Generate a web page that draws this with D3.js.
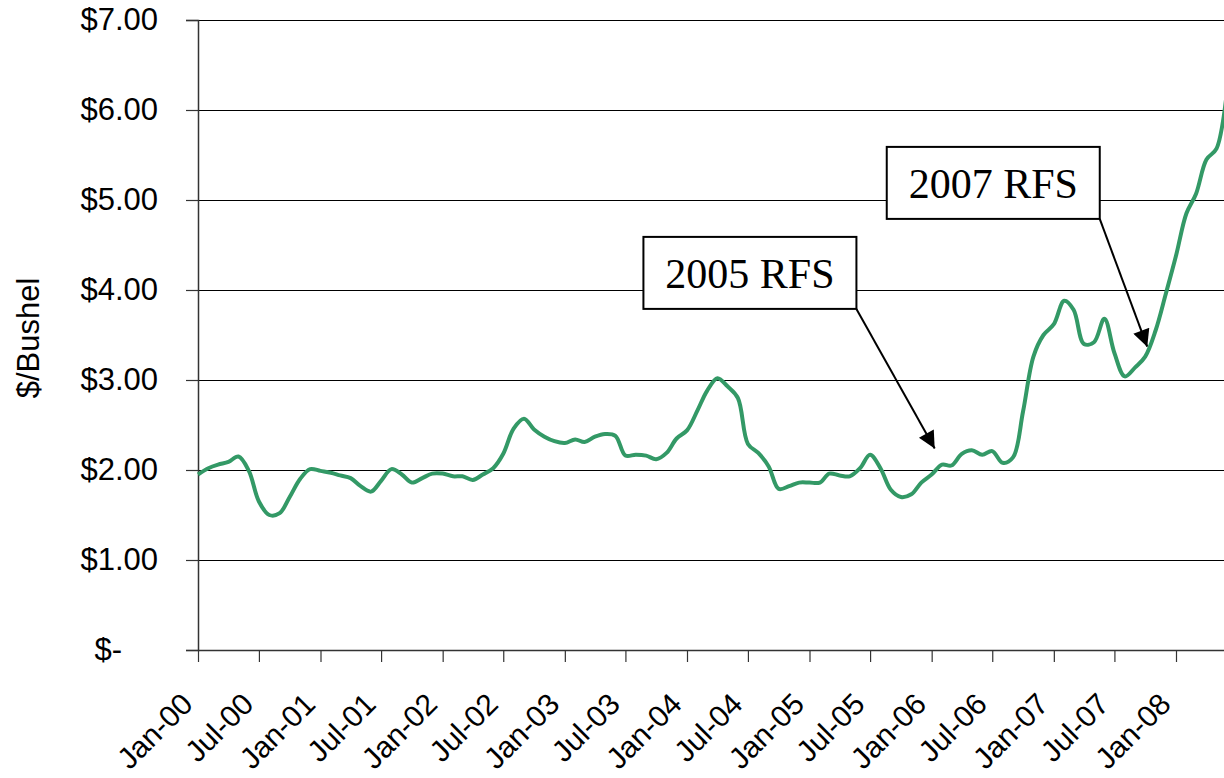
<!DOCTYPE html>
<html>
<head>
<meta charset="utf-8">
<script src="https://cdn.jsdelivr.net/npm/d3@7"></script>
<style>
  html, body { margin: 0; padding: 0; background: #fff; }
  svg { display: block; }
</style>
</head>
<body>
<svg id="chart" width="1224" height="778"></svg>
<script>
// ---- Data: monthly corn price ($/bushel), first month Jan-2000 ----
const startMonth = "2000-01";
const price2000 = [1.95, 2.02, 2.06, 2.09, 2.15, 1.99, 1.65, 1.50, 1.52, 1.70, 1.90, 2.01];
const price2001 = [1.99, 1.97, 1.94, 1.91, 1.82, 1.76, 1.88, 2.01, 1.95, 1.86, 1.91, 1.96];
const price2002 = [1.96, 1.93, 1.93, 1.89, 1.95, 2.02, 2.18, 2.46, 2.57, 2.45, 2.37, 2.32];
const price2003 = [2.30, 2.34, 2.31, 2.37, 2.40, 2.38, 2.16, 2.17, 2.16, 2.12, 2.19, 2.35];
const price2004 = [2.44, 2.66, 2.88, 3.02, 2.93, 2.80, 2.29, 2.19, 2.04, 1.79, 1.82, 1.86];
const price2005 = [1.86, 1.86, 1.96, 1.94, 1.93, 2.02, 2.17, 2.02, 1.78, 1.70, 1.73, 1.86];
const price2006 = [1.95, 2.06, 2.05, 2.18, 2.22, 2.17, 2.21, 2.08, 2.14, 2.65, 3.26, 3.50];
const price2007 = [3.62, 3.88, 3.78, 3.40, 3.42, 3.68, 3.30, 3.04, 3.14, 3.26, 3.55, 3.95];
const price2008 = [4.38, 4.85, 5.07, 5.45, 5.57, 6.20];

const tickLabels = ["Jan-00","Jul-00","Jan-01","Jul-01","Jan-02","Jul-02","Jan-03","Jul-03",
                    "Jan-04","Jul-04","Jan-05","Jul-05","Jan-06","Jul-06","Jan-07","Jul-07","Jan-08"];
const yTicks = [0, 1, 2, 3, 4, 5, 6, 7];
const yTitle = "$/Bushel";

// Annotations (label, box centre in data space, arrow tip in data space)
const annoLabels = ["2005 RFS", "2007 RFS"];
const annoBoxDate = ["2004-07-07", "2006-07-04"];
const annoBoxValue = [4.19, 5.19];
const annoTipDate = ["2006-01-10", "2007-10-07"];
const annoTipValue = [2.24, 3.37];

// ---- Build ----
(function () {
const parseMonth = d3.timeParse("%Y-%m");
const parseDay = d3.timeParse("%Y-%m-%d");
const prices = [].concat(price2000, price2001, price2002, price2003, price2004,
                         price2005, price2006, price2007, price2008);
const start = parseMonth(startMonth);
const data = prices.map((v, i) => ({ date: d3.timeMonth.offset(start, i), value: v }));
const tickDates = tickLabels.map(s => d3.timeParse("%b-%y")(s));

const svg = d3.select("#chart");
const W = 1224, H = 778;
const mLeft = 198, mRight = 1224, mTop = 20, mBottom = 650;

svg.append("rect").attr("width", W).attr("height", H).attr("fill", "#fff");

const x = d3.scaleTime()
  .domain([tickDates[0], tickDates[tickDates.length - 1]])
  .range([mLeft, 1176]);
const y = d3.scaleLinear().domain([0, 7]).range([mBottom, mTop]);

// gridlines
svg.append("g")
  .selectAll("line")
  .data(yTicks.filter(d => d > 0))
  .join("line")
  .attr("x1", mLeft).attr("x2", mRight)
  .attr("y1", d => y(d)).attr("y2", d => y(d))
  .attr("stroke", "#000").attr("stroke-width", 1)
  .attr("shape-rendering", "crispEdges");

// y axis
const yAxis = svg.append("g")
  .attr("transform", `translate(${mLeft},0)`)
  .call(d3.axisLeft(y).tickValues(yTicks).tickSize(12).tickPadding(28)
    .tickFormat(d => d === 0 ? "$-" : "$" + d3.format(".2f")(d)));
yAxis.select(".domain").attr("stroke", "#333").attr("stroke-width", 1.5);
yAxis.selectAll(".tick line").attr("stroke", "#333").attr("stroke-width", 1.2);
yAxis.selectAll(".tick text")
  .attr("font-family", "'Liberation Sans', Arial, sans-serif")
  .attr("font-size", 31).attr("fill", "#000")
  .attr("x", d => d === 0 ? -76 : -40);

// x axis
const xAxis = svg.append("g")
  .attr("transform", `translate(0,${mBottom})`)
  .call(d3.axisBottom(x).tickValues(tickDates).tickSize(12).tickSizeOuter(0)
    .tickFormat((d, i) => tickLabels[i]));
xAxis.select(".domain").attr("d", `M${mLeft},0.5H${mRight}`).attr("stroke", "#333").attr("stroke-width", 1.5);
xAxis.selectAll(".tick line").attr("stroke", "#333").attr("stroke-width", 1.2);
xAxis.selectAll(".tick text")
  .attr("font-family", "'Liberation Sans', Arial, sans-serif")
  .attr("font-size", 30).attr("fill", "#000")
  .attr("x", 0).attr("y", 0).attr("dy", 0)
  .attr("text-anchor", "end")
  .attr("transform", "translate(-4,56) rotate(-45)");

// y title
svg.append("text")
  .attr("transform", `translate(39,${(mTop + mBottom) / 2 + 3}) rotate(-90)`)
  .attr("text-anchor", "middle")
  .attr("font-family", "'Liberation Sans', Arial, sans-serif")
  .attr("font-size", 31)
  .text(yTitle);

// line
const line = d3.line()
  .x(d => x(d.date)).y(d => y(d.value))
  .curve(d3.curveCatmullRom.alpha(0.5));
svg.append("path")
  .datum(data)
  .attr("d", line)
  .attr("fill", "none")
  .attr("stroke", "#339966")
  .attr("stroke-width", 4)
  .attr("stroke-linejoin", "round");

// arrow marker
svg.append("defs").append("marker")
  .attr("id", "arrow")
  .attr("viewBox", "0 0 10 10")
  .attr("refX", 10).attr("refY", 5)
  .attr("markerUnits", "userSpaceOnUse")
  .attr("markerWidth", 21).attr("markerHeight", 17)
  .attr("orient", "auto")
  .append("path").attr("d", "M0,0L10,5L0,10Z").attr("fill", "#000");

// annotations
const boxW = 213, boxH = 72;
annoLabels.forEach((lab, i) => {
  const cx = x(parseDay(annoBoxDate[i])), cy = y(annoBoxValue[i]);
  const tx = x(parseDay(annoTipDate[i])), ty = y(annoTipValue[i]);
  const g = svg.append("g");
  g.append("line")
    .attr("x1", cx + boxW / 2).attr("y1", cy + boxH / 2)
    .attr("x2", tx).attr("y2", ty)
    .attr("stroke", "#000").attr("stroke-width", 2)
    .attr("marker-end", "url(#arrow)");
  g.append("rect")
    .attr("x", cx - boxW / 2).attr("y", cy - boxH / 2)
    .attr("width", boxW).attr("height", boxH)
    .attr("fill", "#fff").attr("stroke", "#000").attr("stroke-width", 2);
  g.append("text")
    .attr("x", cx).attr("y", cy + 15)
    .attr("text-anchor", "middle")
    .attr("font-family", "'Liberation Serif', 'Times New Roman', serif")
    .attr("font-size", 42)
    .text(lab);
});
})();
</script>
</body>
</html>
